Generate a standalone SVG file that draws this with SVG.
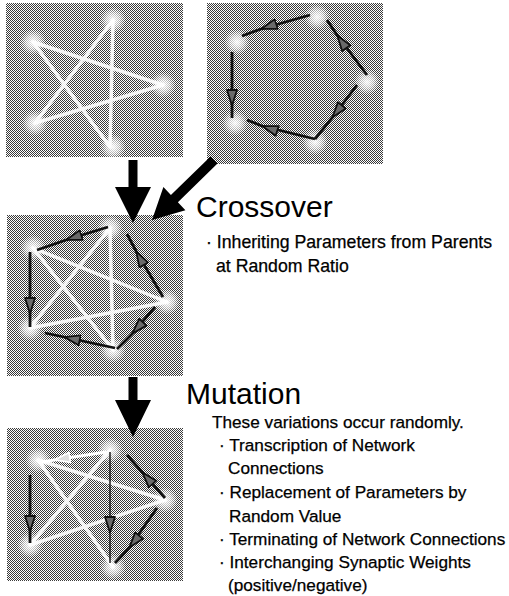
<svg xmlns="http://www.w3.org/2000/svg" width="509" height="596" viewBox="0 0 509 596">
<defs>
<pattern id="dither" width="2" height="2" patternUnits="userSpaceOnUse">
<rect width="2" height="2" fill="#ffffff"/>
<rect x="0" y="0" width="1" height="1" fill="#3a3a3a"/>
<rect x="1" y="1" width="1" height="1" fill="#3a3a3a"/>
</pattern>
<radialGradient id="glow">
<stop offset="0" stop-color="#fff" stop-opacity="0.95"/>
<stop offset="0.5" stop-color="#fff" stop-opacity="0.6"/>
<stop offset="1" stop-color="#fff" stop-opacity="0"/>
</radialGradient>
<marker id="head" markerUnits="userSpaceOnUse" viewBox="0 0 17 12" refX="17" refY="6" markerWidth="17" markerHeight="12" orient="auto">
<path d="M1,1 L16.5,6 L1,11 Z" fill="#6a6a6a" stroke="#111" stroke-width="1.8" stroke-linejoin="round"/>
</marker>
<marker id="headw" markerUnits="userSpaceOnUse" viewBox="0 0 17 12" refX="17" refY="6" markerWidth="17" markerHeight="12" orient="auto">
<path d="M1,1 L16.5,6 L1,11 Z" fill="#ddd" stroke="#fff" stroke-width="1.8" stroke-linejoin="round"/>
</marker>
</defs>
<style>
.panel{fill:url(#dither)}
.node{fill:url(#glow)}
.star{stroke:#fff;stroke-width:3.5;fill:none;stroke-linecap:round;opacity:0.9}
.arr{stroke:#111;stroke-width:2.8;fill:none;marker-mid:url(#head)}
.thin{stroke:#111;stroke-width:1.4;fill:none;marker-mid:url(#head)}
.warr{stroke:#fff;stroke-width:3;fill:none;marker-mid:url(#headw)}
.big{fill:#000}
.title{font-family:"Liberation Sans",Arial,sans-serif;font-size:30px;fill:#000}
.body{font-family:"Liberation Sans",Arial,sans-serif;font-size:17.2px;fill:#000;stroke:#000;stroke-width:0.25}
.cbody{font-size:17.7px}
</style>

<g id="parent1">
<rect class="panel" x="6" y="3" width="177" height="154"/>
<path class="star" d="M113,20 L110,147 M113,20 L35,123 M163,85 L35,123 M163,85 L33,42 M110,147 L33,42"/>
<circle class="node" cx="113" cy="20" r="13"/>
<circle class="node" cx="33" cy="42" r="13"/>
<circle class="node" cx="163" cy="85" r="13"/>
<circle class="node" cx="35" cy="123" r="13"/>
<circle class="node" cx="113" cy="147" r="13"/>
</g>

<g id="parent2">
<rect class="panel" x="207" y="3" width="176" height="161"/>
<circle class="node" cx="317" cy="17" r="13"/>
<circle class="node" cx="237" cy="42" r="13"/>
<circle class="node" cx="367" cy="82" r="13"/>
<circle class="node" cx="235" cy="123" r="13"/>
<circle class="node" cx="315" cy="142" r="13"/>
<path class="arr" d="M310,15 L261,29 L242,36"/>
<path class="arr" d="M232,52 L232,106 L232,118"/>
<path class="arr" d="M315,139 L262,126 L247,120"/>
<path class="arr" d="M357,85 L332,118 L315,139"/>
<path class="arr" d="M367,75 L337,35 L327,20"/>
</g>

<g id="child">
<rect class="panel" x="7" y="215" width="176" height="161"/>
<path class="star" d="M110,228 L113,350 M110,228 L30,328 M167,302 L30,328 M167,302 L33,248 M113,350 L33,248"/>
<circle class="node" cx="110" cy="228" r="13"/>
<circle class="node" cx="33" cy="248" r="13"/>
<circle class="node" cx="167" cy="302" r="13"/>
<circle class="node" cx="30" cy="328" r="13"/>
<circle class="node" cx="113" cy="350" r="13"/>
<path class="arr" d="M108,227 L66,240 L37,250"/>
<path class="arr" d="M30,252 L30,314 L30,327"/>
<path class="arr" d="M115,348 L64,337 L45,333"/>
<path class="arr" d="M155,307 L132,334 L117,349"/>
<path class="arr" d="M163,297 L136,251 L127,234"/>
</g>

<g id="mutant">
<rect class="panel" x="7" y="428" width="176" height="153"/>
<path class="star" d="M110,450 L30,545 M165,500 L30,545 M165,500 L38,460 M113,567 L38,460"/>
<path class="warr" d="M106,452 L54,460 L42,462"/>
<circle class="node" cx="110" cy="450" r="13"/>
<circle class="node" cx="38" cy="460" r="13"/>
<circle class="node" cx="165" cy="500" r="13"/>
<circle class="node" cx="30" cy="545" r="13"/>
<circle class="node" cx="113" cy="567" r="13"/>
<path class="arr" d="M30,475 L30,532 L30,543"/>
<path class="arr" d="M165,498 L142,472 L127,455"/>
<path class="arr" d="M157,508 L129,548 L115,563"/>
<path class="thin" d="M110,452 L110,533 L110,563"/>
</g>

<g id="connectors">
<path class="big" d="M128.5,160 L137.5,160 L137.5,187 L151,187 L133,223 L115,187 L128.5,187 Z"/>
<path class="big" d="M217.5,163.6 L177.9,202.2 L185.4,210.2 L152,220 L163.4,187 L170.9,195 L210.5,156.4 Z"/>
<path class="big" d="M128.5,377 L137.5,377 L137.5,400 L151,400 L133,437 L115,400 L128.5,400 Z"/>
</g>

<g id="crossover-text">
<text class="title" x="196" y="217">Crossover</text>
<text class="body cbody" x="206" y="248">· Inheriting Parameters from Parents</text>
<text class="body cbody" x="216" y="272">at Random Ratio</text>
</g>

<g id="mutation-text">
<text class="title" x="186" y="404">Mutation</text>
<text class="body" x="212" y="428">These variations occur randomly.</text>
<text class="body" x="219" y="451">· Transcription of Network</text>
<text class="body" x="228" y="474">Connections</text>
<text class="body" x="219" y="498">· Replacement of Parameters by</text>
<text class="body" x="229" y="522">Random Value</text>
<text class="body" x="219" y="545">· Terminating of Network Connections</text>
<text class="body" x="219" y="568">· Interchanging Synaptic Weights</text>
<text class="body" x="228" y="591">(positive/negative)</text>
</g>
</svg>
